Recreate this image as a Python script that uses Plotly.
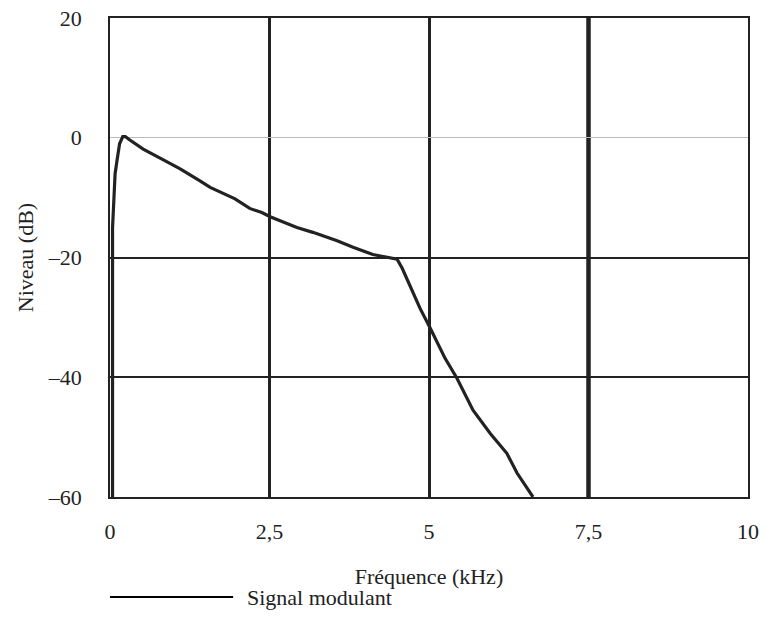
import plotly.graph_objects as go

font_family = 'Liberation Serif'
ink = '#222222'

# curve (kHz, dB)
freq_khz = [0.04, 0.04, 0.06, 0.08, 0.11, 0.15, 0.2, 0.24, 0.3, 0.52, 0.8, 1.1,
            1.41, 1.57, 1.96, 2.19, 2.38, 2.51, 2.93, 3.18, 3.56, 3.81, 4.12, 4.5,
            4.58, 4.86, 5.02, 5.25, 5.44, 5.69, 5.96, 6.22, 6.38, 6.63]
level_db = [-60, -15, -10.5, -6, -3.8, -1, 0.2, 0.2, -0.3, -1.9, -3.5, -5.2,
            -7.2, -8.3, -10.2, -11.8, -12.5, -13.2, -15.0, -15.8, -17.2, -18.3, -19.5, -20.3,
            -21.8, -28.5, -31.8, -36.8, -40.2, -45.5, -49.4, -52.7, -56, -60]

x_ticks = [0, 2.5, 5, 7.5, 10]
x_tick_labels = ['0', '2,5', '5', '7,5', '10']
y_ticks = [20, 0, -20, -40, -60]
y_tick_labels = ['20', '0', '\u201320', '\u201340', '\u201360']

series_name = 'Signal modulant'

fig = go.Figure()

fig.add_trace(go.Scatter(
    x=freq_khz,
    y=level_db,
    mode='lines',
    name=series_name,
    line=dict(color=ink, width=3.2),
    showlegend=False,
))

# 7,5 gridline is drawn heavier in the original
fig.add_shape(type='line', xref='x', yref='paper',
              x0=x_ticks[3], x1=x_ticks[3], y0=0, y1=1,
              line=dict(color=ink, width=4.5), layer='below')

# legend drawn by hand (plotly legend line is too short)
fig.add_shape(type='line', xref='paper', yref='paper',
              x0=0, x1=0.193, y0=-0.209, y1=-0.209,
              line=dict(color='black', width=2))
fig.add_annotation(text=series_name, xref='paper', yref='paper',
                   x=0.212, y=-0.209, xanchor='left', yanchor='middle',
                   showarrow=False,
                   font=dict(family=font_family, size=22, color=ink))

fig.update_xaxes(
    range=[0, 10],
    tickvals=x_ticks,
    ticktext=x_tick_labels,
    ticks='',
    ticklabelstandoff=14,
    ticklabeloverflow='allow',
    automargin=False,
    showgrid=True,
    gridcolor=ink,
    gridwidth=2.5,
    zeroline=False,
    showline=True,
    mirror=True,
    linecolor=ink,
    linewidth=1.5,
    tickfont=dict(family=font_family, size=22, color=ink),
    title=dict(text='Fréquence (kHz)', standoff=25,
               font=dict(family=font_family, size=22, color=ink)),
)

fig.update_yaxes(
    range=[-60, 20],
    tickvals=y_ticks,
    ticktext=y_tick_labels,
    ticks='',
    ticklabelstandoff=22,
    ticklabeloverflow='allow',
    automargin=False,
    showgrid=True,
    gridcolor=ink,
    gridwidth=2,
    zeroline=True,
    zerolinecolor='#bbbbbb',
    zerolinewidth=1,
    showline=True,
    mirror=True,
    linecolor=ink,
    linewidth=1.5,
    tickfont=dict(family=font_family, size=22, color=ink),
    title=dict(text='Niveau (dB)', standoff=8,
               font=dict(family=font_family, size=22, color=ink)),
)

fig.update_layout(
    width=766,
    height=638,
    margin=dict(l=110, r=18, t=18, b=141, pad=0),
    paper_bgcolor='white',
    plot_bgcolor='white',
    showlegend=False,
)

# drop the default 8px body margin so the figure fills the window exactly
fig.write_html('out.html', config={'displayModeBar': False},
               post_script="document.body.style.margin='0';")
